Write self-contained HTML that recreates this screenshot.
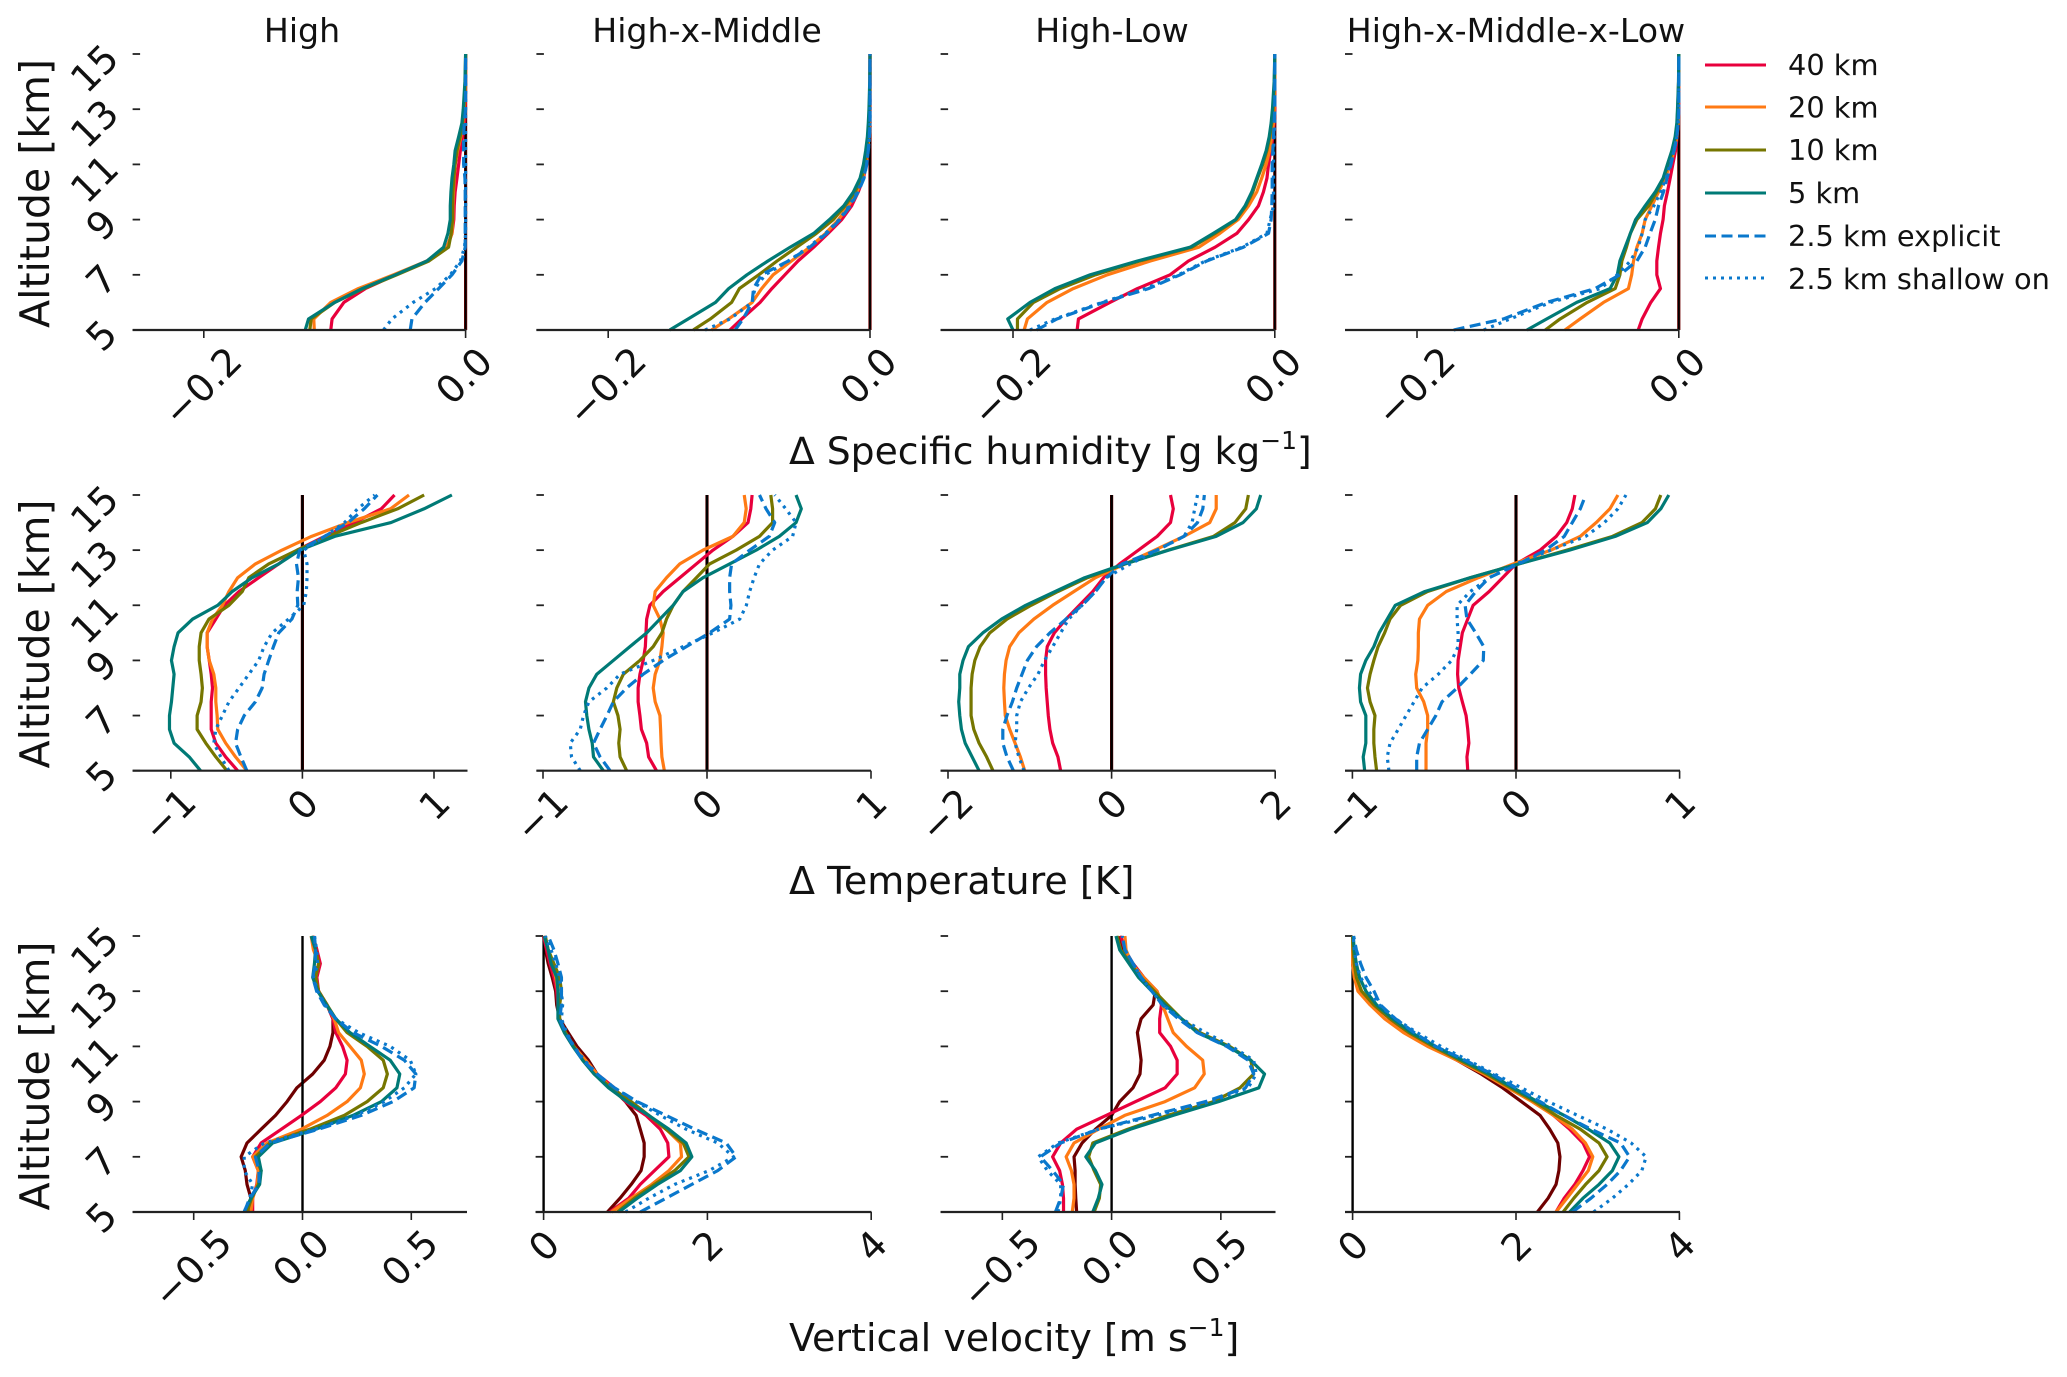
<!DOCTYPE html>
<html lang="en">
<head>
<meta charset="utf-8">
<title>Vertical profiles by cloud regime</title>
<style>
html,body{margin:0;padding:0;background:#fff;}
svg{display:block;}
text{font-family:"DejaVu Sans","Liberation Sans",sans-serif;fill:#111;}
</style>
</head>
<body>
<svg id="chart" xmlns="http://www.w3.org/2000/svg" width="2067" height="1377" viewBox="0 0 2067 1377">
  <rect x="0" y="0" width="2067" height="1377" fill="#ffffff"/>

  <text x="302" y="42" font-size="33.2" text-anchor="middle">High</text>
  <text x="707" y="42" font-size="33.2" text-anchor="middle">High-x-Middle</text>
  <text x="1112" y="42" font-size="33.2" text-anchor="middle">High-Low</text>
  <text x="1516" y="42" font-size="33.2" text-anchor="middle">High-x-Middle-x-Low</text>

  <text font-size="41" text-anchor="middle" transform="translate(49 193.5) rotate(-90)">Altitude [km]</text>
  <text font-size="41" text-anchor="middle" transform="translate(49 634) rotate(-90)">Altitude [km]</text>
  <text font-size="41" text-anchor="middle" transform="translate(49 1076) rotate(-90)">Altitude [km]</text>

  <text x="789" y="464" font-size="37.7">Δ Specific humidity [g kg<tspan font-size="25" dy="-15">−1</tspan><tspan dy="15">]</tspan></text>
  <text x="789" y="894" font-size="38">Δ Temperature [K]</text>
  <text x="789" y="1351" font-size="38">Vertical velocity [m s<tspan font-size="25" dy="-15">−1</tspan><tspan dy="15">]</tspan></text>

  <g>
    <line x1="1705" y1="65" x2="1766" y2="65" stroke="#e8003c" stroke-width="3"/>
    <text x="1788" y="75" font-size="28.8">40 km</text>
    <line x1="1705" y1="107" x2="1766" y2="107" stroke="#ff7a14" stroke-width="3"/>
    <text x="1788" y="117.500" font-size="28.8">20 km</text>
    <line x1="1705" y1="150" x2="1766" y2="150" stroke="#767600" stroke-width="3"/>
    <text x="1788" y="160" font-size="28.8">10 km</text>
    <line x1="1705" y1="193" x2="1766" y2="193" stroke="#007a76" stroke-width="3"/>
    <text x="1788" y="203" font-size="28.8">5 km</text>
    <line x1="1705" y1="236" x2="1766" y2="236" stroke="#0a78cc" stroke-width="3" stroke-dasharray="11 5.500"/>
    <text x="1788" y="246" font-size="28.8">2.5 km explicit</text>
    <line x1="1705" y1="278" x2="1766" y2="278" stroke="#0a78cc" stroke-width="3" stroke-dasharray="3 5"/>
    <text x="1788" y="289" font-size="28.8">2.5 km shallow on</text>
  </g>

  <g id="panels"></g>
</svg>

<script>
// Altitude grids [km]
const altHumidity = [5,5.4,6,6.5,7,7.5,8,8.5,9,9.5,10,10.5,11,11.5,12,12.5,13,14,15];
const altProfile = [5,5.5,6,6.5,7,7.5,8,8.5,9,9.5,10,10.5,11,11.5,12,12.5,13,13.5,14,14.5,15];
const altTicks = [5,7,9,11,13,15];

// Specific humidity anomalies [g/kg]
const qDark = [0,0,0,0,0,0,0,0,0,0,0,0,0,0,0,0,0,0,0];

const qHighRed = [-.103,-.102,-.093,-.0766,-.0537,-.0295,-.0143,-.0104,-.009,-.0087,-.008,-.0066,-.0053,-.004,-.0023,-.0008,-.0003,0,0];
const qHighOrange = [-.1156,-.116,-.103,-.082,-.055,-.0295,-.0143,-.0104,-.0097,-.0097,-.0092,-.0087,-.008,-.0061,-.0036,-.002,-.001,0,0];
const qHighOlive = [-.119,-.118,-.1,-.078,-.0525,-.028,-.013,-.011,-.01,-.01,-.0097,-.009,-.008,-.0066,-.0041,-.0023,-.0013,-.0003,0];
const qHighTeal = [-.1225,-.12,-.1,-.079,-.0537,-.0295,-.0168,-.0135,-.0117,-.0117,-.0112,-.0104,-.009,-.008,-.0053,-.0028,-.0018,-.0005,0];
const qHighDashed = [-.0423,-.041,-.031,-.0206,-.0104,-.0028,-.0003,-.0003,-.0003,-.0003,-.0003,-.0005,-.0015,-.0015,-.0015,-.001,0,0,0];
const qHighDotted = [-.0627,-.0563,-.04,-.023,-.0117,-.004,-.0008,0,0,0,0,0,0,0,0,0,0,0,0];

const qHxmRed = [-.107,-.098,-.084,-.075,-.065,-.055,-.043,-.032,-.0216,-.014,-.009,-.005,-.003,-.0018,-.0008,-.0003,0,0,0];
const qHxmOrange = [-.121,-.108,-.09,-.0828,-.074,-.06,-.046,-.034,-.024,-.0166,-.01,-.0056,-.0033,-.0018,-.001,-.0005,-.0003,0,0];
const qHxmOlive = [-.135,-.122,-.1057,-.0998,-.085,-.071,-.056,-.041,-.028,-.019,-.0115,-.0064,-.0038,-.0025,-.0015,-.001,-.0005,0,0];
const qHxmTeal = [-.153,-.139,-.118,-.108,-.094,-.078,-.061,-.043,-.031,-.02,-.0127,-.0076,-.005,-.0033,-.002,-.0013,-.0008,-.0002,0];
const qHxmDashed = [-.103,-.097,-.09,-.089,-.083,-.0624,-.046,-.033,-.023,-.015,-.009,-.0046,-.0025,-.0013,-.0005,0,0,0,0];
const qHxmDotted = [-.126,-.107,-.09,-.088,-.08,-.0624,-.047,-.034,-.0235,-.0158,-.0097,-.005,-.0025,-.0013,-.0005,0,0,0,0];

const qHlRed = [-.151,-.15,-.126,-.105,-.08,-.066,-.0456,-.029,-.02,-.0125,-.0087,-.006,-.0048,-.003,-.0015,-.0005,0,0,0];
const qHlOrange = [-.1915,-.189,-.174,-.154,-.128,-.095,-.058,-.042,-.028,-.02,-.0138,-.01,-.0066,-.004,-.0023,-.001,-.0005,0,0];
const qHlOlive = [-.1966,-.1966,-.1844,-.164,-.137,-.103,-.0634,-.0456,-.0295,-.022,-.0168,-.0132,-.0092,-.0061,-.0038,-.0023,-.0013,-.0003,0];
const qHlTeal = [-.2,-.204,-.187,-.168,-.141,-.105,-.0647,-.047,-.03,-.0227,-.0176,-.0138,-.01,-.0066,-.0043,-.0028,-.0018,-.0005,0];
const qHlDashed = [-.182,-.1665,-.131,-.0965,-.0723,-.052,-.024,-.0048,-.0028,-.0023,-.002,-.002,-.002,-.0015,-.001,-.0005,0,0,0];
const qHlDotted = [-.187,-.168,-.132,-.099,-.0736,-.053,-.025,-.006,-.0036,-.001,-.001,-.001,-.001,-.001,-.0005,0,0,0,0];

const qAllRed = [-.031,-.028,-.0214,-.014,-.0168,-.0168,-.0155,-.014,-.012,-.011,-.0087,-.0066,-.0046,-.0025,-.0013,-.0005,0,0,0];
const qAllOrange = [-.087,-.0754,-.0575,-.0385,-.036,-.0346,-.032,-.028,-.0257,-.0206,-.0155,-.0104,-.0066,-.0036,-.0015,-.0005,-.0003,0,0];
const qAllOlive = [-.102,-.0907,-.07,-.0486,-.045,-.0435,-.04,-.037,-.032,-.023,-.0168,-.0117,-.008,-.0046,-.0025,-.0013,-.0008,-.0002,0];
const qAllTeal = [-.116,-.101,-.078,-.0525,-.047,-.045,-.041,-.037,-.033,-.0257,-.018,-.012,-.0087,-.0053,-.0028,-.0015,-.001,-.0002,0];
const qAllDashed = [-.172,-.134,-.101,-.064,-.045,-.032,-.0257,-.022,-.018,-.0155,-.0117,-.009,-.006,-.0036,-.0015,-.0005,0,0,0];
const qAllDotted = [-.149,-.129,-.098,-.06,-.047,-.037,-.031,-.028,-.0257,-.019,-.014,-.0097,-.0066,-.0036,-.0015,-.0005,0,0,0];

// Temperature anomalies [K]
const tDark = [0,0,0,0,0,0,0,0,0,0,0,0,0,0,0,0,0,0,0,0,0];

const tHighRed = [-.492,-.583,-.658,-.693,-.693,-.693,-.683,-.693,-.708,-.724,-.724,-.658,-.593,-.482,-.332,-.18,-.04,.17,.397,.6,.7];
const tHighOrange = [-.422,-.508,-.583,-.643,-.648,-.658,-.658,-.673,-.708,-.724,-.724,-.683,-.608,-.558,-.492,-.357,-.156,.07,.347,.67,.81];
const tHighOlive = [-.573,-.658,-.734,-.8,-.8,-.77,-.76,-.77,-.784,-.784,-.77,-.71,-.558,-.457,-.407,-.256,-.04,.196,.447,.724,.925];
const tHighTeal = [-.774,-.86,-.975,-1.01,-1.01,-.995,-.985,-.975,-.995,-.975,-.945,-.834,-.643,-.533,-.382,-.18,-.02,.246,.673,.925,1.136];
const tHighDashed = [-.422,-.467,-.508,-.492,-.442,-.357,-.306,-.291,-.256,-.22,-.18,-.08,-.035,-.04,-.03,-.045,-.02,.17,.347,.47,.57];
const tHighDotted = [-.558,-.62,-.673,-.658,-.608,-.558,-.482,-.407,-.332,-.291,-.23,-.105,.01,.03,.035,.035,.01,.17,.32,.42,.55];

const tHxmRed = [-.308,-.356,-.368,-.4,-.409,-.42,-.42,-.409,-.389,-.376,-.372,-.368,-.348,-.267,-.166,-.065,.036,.158,.25,.267,.275];
const tHxmOrange = [-.26,-.275,-.28,-.283,-.287,-.316,-.328,-.316,-.287,-.275,-.267,-.287,-.328,-.316,-.247,-.166,-.024,.158,.227,.239,.227];
const tHxmOlive = [-.49,-.53,-.538,-.53,-.543,-.571,-.55,-.51,-.409,-.328,-.275,-.247,-.206,-.146,-.065,.016,.178,.32,.4,.4,.389];
const tHxmTeal = [-.632,-.692,-.7,-.72,-.733,-.741,-.72,-.672,-.571,-.47,-.368,-.287,-.206,-.146,-.024,.138,.3,.441,.543,.575,.543];
const tHxmDashed = [-.591,-.652,-.692,-.652,-.61,-.571,-.49,-.389,-.267,-.126,.016,.138,.146,.138,.138,.15,.26,.38,.413,.36,.32];
const tHxmDotted = [-.773,-.826,-.834,-.773,-.753,-.72,-.611,-.53,-.328,-.146,.036,.2,.24,.26,.287,.32,.4,.522,.543,.48,.413];

const tHlRed = [-.623,-.656,-.72,-.754,-.774,-.787,-.8,-.807,-.807,-.787,-.7,-.557,-.393,-.23,-.098,.098,.328,.557,.72,.754,.72];
const tHlOrange = [-1.062,-1.115,-1.18,-1.246,-1.3,-1.31,-1.318,-1.31,-1.29,-1.246,-1.134,-.95,-.72,-.46,-.197,.164,.525,.885,1.2,1.279,1.279];
const tHlOlive = [-1.45,-1.528,-1.62,-1.685,-1.718,-1.718,-1.718,-1.705,-1.672,-1.607,-1.489,-1.279,-.984,-.656,-.295,.164,.689,1.246,1.508,1.64,1.672];
const tHlTeal = [-1.62,-1.705,-1.79,-1.836,-1.856,-1.869,-1.856,-1.856,-1.816,-1.75,-1.574,-1.344,-1.05,-.689,-.33,.16,.7,1.279,1.607,1.77,1.823];
const tHlDashed = [-1.2,-1.279,-1.33,-1.33,-1.279,-1.213,-1.16,-1.095,-1.03,-.918,-.754,-.557,-.36,-.197,-.066,.13,.557,.885,1.05,1.115,1.134];
const tHlDotted = [-1.07,-1.134,-1.18,-1.16,-1.16,-1.115,-1.016,-.9,-.82,-.72,-.623,-.525,-.36,-.197,-.066,.23,.557,.885,.984,1.016,1.05];

const tAllRed = [-.295,-.3,-.288,-.295,-.305,-.328,-.35,-.357,-.354,-.341,-.328,-.295,-.262,-.164,-.082,0,.148,.246,.31,.344,.36];
const tAllOrange = [-.55,-.55,-.55,-.54,-.54,-.564,-.607,-.613,-.6,-.597,-.597,-.59,-.54,-.426,-.23,-.016,.213,.393,.49,.574,.623];
const tAllOlive = [-.852,-.862,-.869,-.869,-.862,-.892,-.908,-.892,-.869,-.843,-.803,-.77,-.705,-.54,-.279,.016,.31,.59,.77,.852,.885];
const tAllTeal = [-.925,-.934,-.918,-.918,-.918,-.95,-.957,-.95,-.918,-.869,-.836,-.787,-.738,-.557,-.279,.016,.328,.607,.803,.885,.934];
const tAllDashed = [-.607,-.607,-.59,-.54,-.49,-.452,-.36,-.279,-.2,-.197,-.246,-.3,-.311,-.246,-.164,.016,.18,.295,.344,.393,.426];
const tAllDotted = [-.777,-.787,-.77,-.72,-.672,-.623,-.574,-.475,-.393,-.354,-.354,-.36,-.36,-.279,-.164,0,.213,.426,.54,.623,.672];

// Vertical velocity [m/s]
const wHighDark = [-.25,-.237,-.255,-.263,-.282,-.255,-.19,-.124,-.071,-.026,.047,.1,.126,.14,.14,.113,.074,.06,.074,.066,.047];
const wHighRed = [-.229,-.229,-.21,-.203,-.229,-.19,-.097,-.005,.082,.153,.197,.205,.184,.153,.14,.113,.074,.066,.082,.066,.047];
const wHighOrange = [-.237,-.229,-.208,-.203,-.229,-.163,-.005,.113,.205,.266,.284,.27,.218,.166,.145,.113,.074,.06,.075,.05,.04];
const wHighOlive = [-.255,-.234,-.203,-.19,-.216,-.15,.034,.192,.297,.371,.39,.371,.297,.205,.153,.113,.074,.06,.075,.06,.045];
const wHighTeal = [-.268,-.237,-.197,-.19,-.203,-.137,.06,.232,.363,.434,.447,.403,.31,.218,.153,.11,.07,.047,.055,.06,.04];
const wHighDashed = [-.268,-.242,-.2,-.2,-.216,-.15,.074,.27,.416,.513,.521,.468,.363,.232,.153,.1,.065,.047,.06,.06,.055];
const wHighDotted = [-.268,-.242,-.229,-.268,-.268,-.176,.06,.245,.376,.468,.521,.495,.403,.258,.153,.105,.07,.05,.07,.065,.055];

const wHxmDark = [.78,.933,1.07,1.19,1.228,1.228,1.18,1.13,1.0,.83,.653,.547,.407,.3,.196,.16,.147,.105,.056,.021,0];
const wHxmRed = [.807,1.04,1.18,1.354,1.53,1.516,1.425,1.25,1.0,.863,.653,.512,.37,.267,.18,.175,.16,.126,.077,.035,0];
const wHxmOrange = [.828,1.07,1.32,1.53,1.684,1.67,1.495,1.284,1.04,.828,.653,.512,.37,.267,.18,.18,.175,.147,.105,.056,.007];
const wHxmOlive = [.9,1.11,1.354,1.6,1.775,1.705,1.495,1.284,1.07,.828,.617,.477,.37,.267,.196,.196,.218,.196,.126,.056,.021];
const wHxmTeal = [.92,1.144,1.39,1.67,1.81,1.74,1.53,1.284,1.02,.793,.617,.477,.358,.253,.175,.175,.175,.161,.091,.056,.007];
const wHxmDashed = [1.18,1.495,1.81,2.126,2.35,2.23,1.846,1.495,1.144,.863,.653,.477,.37,.267,.196,.218,.218,.218,.175,.126,.056];
const wHxmDotted = [1.0,1.284,1.6,2.02,2.32,2.126,1.74,1.425,1.13,.863,.653,.498,.37,.281,.218,.232,.218,.196,.147,.091,.021];

const wHlDark = [-.16,-.164,-.167,-.167,-.172,-.135,-.074,0,.037,.098,.13,.135,.127,.118,.135,.19,.2,.147,.098,.056,.037];
const wHlRed = [-.22,-.22,-.225,-.238,-.27,-.233,-.16,-.025,.11,.245,.3,.3,.27,.22,.22,.228,.208,.147,.098,.061,.042];
const wHlOrange = [-.18,-.172,-.172,-.184,-.208,-.172,-.06,.06,.245,.38,.424,.417,.343,.282,.257,.233,.208,.147,.091,.066,.061];
const wHlOlive = [-.08,-.056,-.05,-.08,-.105,-.086,.074,.257,.466,.588,.65,.637,.54,.404,.32,.257,.196,.135,.086,.042,.025];
const wHlTeal = [-.086,-.061,-.044,-.074,-.118,-.074,.086,.282,.49,.674,.7,.637,.532,.392,.32,.245,.184,.123,.08,.037,.02];
const wHlDashed = [-.257,-.233,-.22,-.27,-.326,-.233,-.06,.184,.43,.613,.65,.625,.527,.392,.306,.233,.184,.135,.098,.061,.049];
const wHlDotted = [-.245,-.233,-.233,-.294,-.336,-.245,-.06,.208,.453,.625,.662,.65,.55,.43,.32,.233,.184,.135,.098,.061,.049];

const wAllDark = [2.262,2.393,2.49,2.525,2.538,2.512,2.413,2.295,2.066,1.836,1.574,1.279,.95,.656,.459,.262,.085,.02,0,0,0];
const wAllRed = [2.49,2.59,2.72,2.82,2.9,2.82,2.656,2.46,2.23,1.934,1.607,1.279,.95,.656,.459,.262,.098,.033,.007,0,0];
const wAllOrange = [2.49,2.623,2.754,2.885,2.94,2.85,2.69,2.46,2.197,1.9,1.607,1.279,.918,.623,.393,.216,.066,.02,0,0,0];
const wAllOlive = [2.577,2.708,2.852,3.016,3.115,3.016,2.787,2.49,2.23,1.934,1.64,1.31,.984,.689,.459,.262,.111,.046,.02,.007,0];
const wAllTeal = [2.656,2.82,3.016,3.18,3.26,3.148,2.885,2.59,2.262,1.967,1.672,1.344,1.016,.72,.492,.295,.164,.085,.046,.02,.007];
const wAllDashed = [2.69,2.918,3.115,3.28,3.39,3.28,2.918,2.59,2.295,2.0,1.705,1.377,1.016,.754,.525,.341,.262,.164,.098,.046,.013];
const wAllDotted = [2.95,3.18,3.377,3.54,3.593,3.41,3.115,2.754,2.393,2.066,1.738,1.41,1.082,.787,.525,.328,.197,.098,.046,.02,.007];

// Tick labels
const ticksHumidity = [-0.2, 0];
const labelsHumidity = ['−0.2', '0.0'];
const ticksTempNarrow = [-1, 0, 1];
const labelsTempNarrow = ['−1', '0', '1'];
const ticksTempWide = [-2, 0, 2];
const labelsTempWide = ['−2', '0', '2'];
const ticksVelSmall = [-0.5, 0, 0.5];
const labelsVelSmall = ['−0.5', '0.0', '0.5'];
const ticksVelLarge = [0, 2, 4];
const labelsVelLarge = ['0', '2', '4'];

// Series appearance
const seriesNames = ['80km', '40km', '20km', '10km', '5km', '2-5km-explicit', '2-5km-shallow'];
const seriesColors = ['#6e0000', '#e8003c', '#ff7a14', '#767600', '#007a76', '#0a78cc', '#0a78cc'];
const seriesDashes = ['', '', '', '', '', '11 5.5', '3 5'];

// Panel definitions
const rows = [
  { name: 'humidity', top: 54, bottom: 330, alts: altHumidity, zeroWidth: 1.8, panels: [
    { name: 'high', left: 132.6, right: 466.5, zero: 465.6, scale: 1309, ticks: ticksHumidity, labels: labelsHumidity,
      series: [qDark, qHighRed, qHighOrange, qHighOlive, qHighTeal, qHighDashed, qHighDotted] },
    { name: 'high-x-middle', left: 536.4, right: 870.5, zero: 870, scale: 1309, ticks: ticksHumidity, labels: labelsHumidity,
      series: [qDark, qHxmRed, qHxmOrange, qHxmOlive, qHxmTeal, qHxmDashed, qHxmDotted] },
    { name: 'high-low', left: 940.6, right: 1275.5, zero: 1274.8, scale: 1309, ticks: ticksHumidity, labels: labelsHumidity,
      series: [qDark, qHlRed, qHlOrange, qHlOlive, qHlTeal, qHlDashed, qHlDotted] },
    { name: 'high-x-middle-x-low', left: 1345, right: 1679.5, zero: 1678.8, scale: 1309, ticks: ticksHumidity, labels: labelsHumidity,
      series: [qDark, qAllRed, qAllOrange, qAllOlive, qAllTeal, qAllDashed, qAllDotted] }
  ]},
  { name: 'temperature', top: 495, bottom: 770.7, alts: altProfile, zeroWidth: 2.4, panels: [
    { name: 'high', left: 132.6, right: 467.5, zero: 302.4, scale: 131.6, ticks: ticksTempNarrow, labels: labelsTempNarrow,
      series: [tDark, tHighRed, tHighOrange, tHighOlive, tHighTeal, tHighDashed, tHighDotted] },
    { name: 'high-x-middle', left: 536.4, right: 871, zero: 707, scale: 164, ticks: ticksTempNarrow, labels: labelsTempNarrow,
      series: [tDark, tHxmRed, tHxmOrange, tHxmOlive, tHxmTeal, tHxmDashed, tHxmDotted] },
    { name: 'high-low', left: 940.6, right: 1275.5, zero: 1111.6, scale: 81.8, ticks: ticksTempWide, labels: labelsTempWide,
      series: [tDark, tHlRed, tHlOrange, tHlOlive, tHlTeal, tHlDashed, tHlDotted] },
    { name: 'high-x-middle-x-low', left: 1345, right: 1680, zero: 1516, scale: 163.6, ticks: ticksTempNarrow, labels: labelsTempNarrow,
      series: [tDark, tAllRed, tAllOrange, tAllOlive, tAllTeal, tAllDashed, tAllDotted] }
  ]},
  { name: 'velocity', top: 936, bottom: 1212, alts: altProfile, zeroWidth: 2.4, panels: [
    { name: 'high', left: 132.6, right: 467, zero: 302.5, scale: 217.6, ticks: ticksVelSmall, labels: labelsVelSmall,
      series: [wHighDark, wHighRed, wHighOrange, wHighOlive, wHighTeal, wHighDashed, wHighDotted] },
    { name: 'high-x-middle', left: 535.6, right: 871.5, zero: 543.6, scale: 81.9, ticks: ticksVelLarge, labels: labelsVelLarge,
      series: [wHxmDark, wHxmRed, wHxmOrange, wHxmOlive, wHxmTeal, wHxmDashed, wHxmDotted] },
    { name: 'high-low', left: 940.6, right: 1275.5, zero: 1111.6, scale: 218.5, ticks: ticksVelSmall, labels: labelsVelSmall,
      series: [wHlDark, wHlRed, wHlOrange, wHlOlive, wHlTeal, wHlDashed, wHlDotted] },
    { name: 'high-x-middle-x-low', left: 1345, right: 1680, zero: 1352.6, scale: 81.7, ticks: ticksVelLarge, labels: labelsVelLarge,
      series: [wAllDark, wAllRed, wAllOrange, wAllOlive, wAllTeal, wAllDashed, wAllDotted] }
  ]}
];

const SVG_NS = 'http://www.w3.org/2000/svg';
const root = document.getElementById('panels');
const TICK_FONT = 38;

function make(parent, tag, attrs) {
  const el = document.createElementNS(SVG_NS, tag);
  for (const key in attrs) el.setAttribute(key, attrs[key]);
  parent.appendChild(el);
  return el;
}

function rotatedLabel(parent, name, text, cx, cy) {
  const label = make(parent, 'text', { 'font-size': TICK_FONT, 'text-anchor': 'middle' });
  
  
  label.textContent = text;
  label.setAttribute('x', cx);
  label.setAttribute('y', cy + 0.365 * TICK_FONT);
  label.setAttribute('transform', 'rotate(-45 ' + cx + ' ' + cy + ')');
  return label;
}

rows.forEach(function (row) {
  const yScale = function (alt) {
    return row.bottom + (alt - 5) * (row.top - row.bottom) / 10;
  };
  row.panels.forEach(function (panel, col) {
    const xScale = function (v) {
      return panel.zero + v * panel.scale;
    };
    const prefix = row.name + '-' + panel.name;
    const g = make(root, 'g', {});
    
    

    // y-axis stubs and labels
    altTicks.forEach(function (alt) {
      const stub = make(g, 'line', { x1: panel.left, x2: panel.left + 7.5, y1: yScale(alt), y2: yScale(alt), stroke: '#222', 'stroke-width': 1.8 });
      
      
      if (col === 0) {
        const twoDigit = alt >= 10;
        rotatedLabel(g, row.name + '-y-tick-label', String(alt), twoDigit ? 94 : 101, yScale(alt) + (twoDigit ? 14 : 5));
      }
    });

    // 80 km profile beneath the zero line
    const drawSeries = function (i) {
      const values = panel.series[i];
      let d = '';
      values.forEach(function (v, k) {
        d += (k ? 'L' : 'M') + xScale(v).toFixed(2) + ' ' + yScale(row.alts[k]).toFixed(2);
      });
      const path = make(g, 'path', { d: d, fill: 'none', stroke: seriesColors[i], 'stroke-width': 3.2, 'stroke-linejoin': 'round' });
      if (seriesDashes[i]) path.setAttribute('stroke-dasharray', seriesDashes[i]);
      
      
    };
    drawSeries(0);

    // zero line
    const zeroLine = make(g, 'line', { x1: xScale(0), x2: xScale(0), y1: row.top, y2: row.bottom, stroke: '#000', 'stroke-width': row.zeroWidth });
    
    

    // remaining profiles
    for (let i = 1; i < panel.series.length; i++) drawSeries(i);

    // bottom axis
    const axis = make(g, 'line', { x1: panel.left, x2: panel.right, y1: row.bottom, y2: row.bottom, stroke: '#222', 'stroke-width': 2.2 });
    
    

    // x ticks and rotated labels
    panel.ticks.forEach(function (tick, t) {
      const px = xScale(tick);
      const mark = make(g, 'line', { x1: px, x2: px, y1: row.bottom, y2: row.bottom + 8, stroke: '#222', 'stroke-width': 1.6 });
      
      
      const text = panel.labels[t];
      const label = rotatedLabel(g, prefix + '-x-tick-label', text, px, row.bottom);
      const width = label.getComputedTextLength();
      const extent = 0.66 * width + 9;
      const cx = px - (text.length > 1 ? 2 : 0);
      const cy = row.bottom + 21 + extent / 2;
      label.setAttribute('x', cx);
      label.setAttribute('y', cy + 0.365 * TICK_FONT);
      label.setAttribute('transform', 'rotate(-45 ' + cx + ' ' + cy + ')');
    });
  });
});
</script>
</body>
</html>
